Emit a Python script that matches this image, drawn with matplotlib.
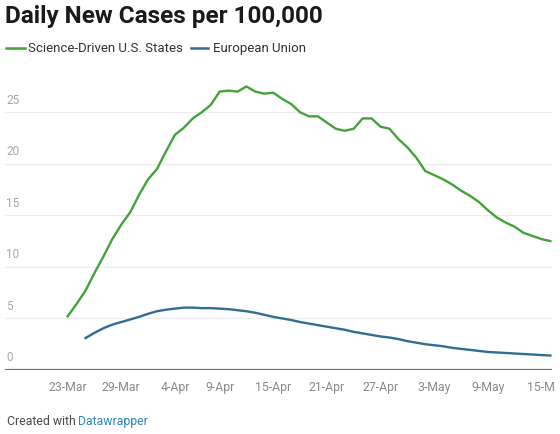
import datetime as dt

import matplotlib
matplotlib.use("Agg")
import matplotlib.pyplot as plt
import matplotlib.dates as mdates

# Data (daily values, per 100,000)
START_GREEN = dt.date(2020, 3, 23)
START_BLUE = dt.date(2020, 3, 25)

us_states = [
    5.2, 6.4, 7.7, 9.4, 11.0, 12.7, 14.1, 15.3, 17.0, 18.5,
    19.5, 21.2, 22.8, 23.5, 24.4, 25.0, 25.7, 27.0, 27.1, 27.0,
    27.5, 27.0, 26.8, 26.9, 26.3, 25.8, 25.0, 24.6, 24.6, 24.0,
    23.4, 23.2, 23.4, 24.4, 24.4, 23.6, 23.4, 22.4, 21.6, 20.6,
    19.3, 18.9, 18.5, 18.0, 17.4, 16.9, 16.3, 15.5, 14.8, 14.3,
    13.9, 13.3, 13.0, 12.7, 12.5,
]
eu = [
    3.1, 3.6, 4.05, 4.4, 4.65, 4.9, 5.15, 5.45, 5.7, 5.85,
    5.95, 6.05, 6.05, 6.0, 6.0, 5.95, 5.9, 5.8, 5.7, 5.55,
    5.35, 5.15, 5.0, 4.85, 4.65, 4.5, 4.35, 4.2, 4.05, 3.9,
    3.7, 3.55, 3.4, 3.25, 3.15, 3.0, 2.8, 2.65, 2.5, 2.4,
    2.3, 2.15, 2.05, 1.95, 1.85, 1.75, 1.7, 1.65, 1.6, 1.55,
    1.5, 1.45, 1.4,
]

tick_dates = ["2020-03-23", "2020-03-29", "2020-04-04", "2020-04-09", "2020-04-15",
              "2020-04-21", "2020-04-27", "2020-05-03", "2020-05-09", "2020-05-15"]
# last label is cut short in the original too
tick_labels = ["23-Mar", "29-Mar", "4-Apr", "9-Apr", "15-Apr",
               "21-Apr", "27-Apr", "3-May", "9-May", "15-M"]
y_ticks = [0, 5, 10, 15, 20, 25]

GREEN = "#43a33b"
BLUE = "#2f6d94"

plt.rcParams["font.family"] = ["Roboto", "DejaVu Sans"]

green_x = [START_GREEN + dt.timedelta(days=i) for i in range(len(us_states))]
blue_x = [START_BLUE + dt.timedelta(days=i) for i in range(len(eu))]

fig = plt.figure(figsize=(5.6, 4.34), dpi=100)
ax = fig.add_axes([0.009, 0.1475, 0.977, 0.677])

ax.plot(green_x, us_states, color=GREEN, lw=1.7, solid_joinstyle="round", zorder=3)
ax.plot(blue_x, eu, color=BLUE, lw=1.7, solid_joinstyle="round", zorder=3)

ax.set_ylim(0, 28.5)
ax.set_xlim(mdates.date2num(dt.date(2020, 3, 16)), mdates.date2num(dt.date(2020, 5, 16)) + 0.2)

# gridlines, labels sit above the line like datawrapper does
for yv in y_ticks:
    if yv == 0:
        ax.axhline(0, color="#6e6e6e", lw=1.6, zorder=2)
    else:
        ax.axhline(yv, color="#ececec", lw=0.9, zorder=1)
    ax.annotate(str(yv), xy=(0, yv), xycoords=("axes fraction", "data"),
                xytext=(1, 4), textcoords="offset points",
                fontsize=8.5, color="#a8a8a8", va="bottom", ha="left")

ax.set_yticks([])
ax.set_xticks([mdates.date2num(dt.date.fromisoformat(d)) for d in tick_dates])
ax.set_xticklabels(tick_labels, fontsize=8.8, color="#8a8a8a")
ax.tick_params(axis="x", length=0, pad=8)
for s in ax.spines.values():
    s.set_visible(False)

# title and legend
fig.text(0.009, 0.988, "Daily New Cases per 100,000", fontsize=17.5,
         fontweight="bold", color="#1a1a1a", va="top", ha="left")

fig.add_artist(plt.Line2D([0.010, 0.044], [0.889, 0.889], color=GREEN, lw=1.8))
fig.text(0.050, 0.889, "Science-Driven U.S. States", fontsize=9.5, color="#333333",
         va="center", ha="left")
fig.add_artist(plt.Line2D([0.341, 0.372], [0.889, 0.889], color=BLUE, lw=1.8))
fig.text(0.380, 0.889, "European Union", fontsize=9.5, color="#333333",
         va="center", ha="left")

# footer
t = fig.text(0.012, 0.028, "Created with ", fontsize=8.8, color="#4a4a4a",
             va="center", ha="left")
fig.canvas.draw()
bb = t.get_window_extent()
fig.text(bb.x1 / fig.bbox.width, 0.028, "Datawrapper", fontsize=8.8, color="#2a86bf",
         va="center", ha="left")

fig.savefig("out.png", dpi=100)
